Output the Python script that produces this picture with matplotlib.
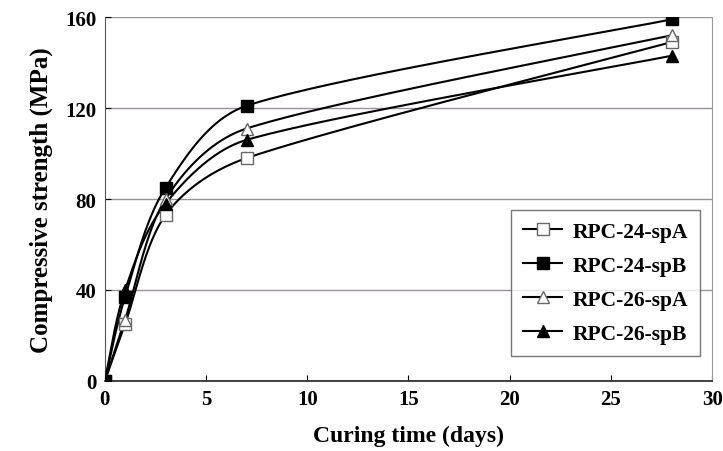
import numpy as np
import matplotlib.pyplot as plt

days = [0, 1, 3, 7, 28]
rpc24_spa = [0, 25, 73, 98, 149]
rpc24_spb = [0, 37, 85, 121, 159]
rpc26_spa = [0, 27, 80, 111, 152]
rpc26_spb = [0, 40, 78, 106, 143]

x_ticks = [0, 5, 10, 15, 20, 25, 30]
y_ticks = [0, 40, 80, 120, 160]

# pixels per data unit, so the smoothing is done in screen space
SX = 607 / 30
SY = 364 / 160


# spreadsheet-style smoothed line: Bezier segments with Catmull-Rom control points,
# control arms clamped to a third of the segment so nothing loops back
def smooth(x, y, n=40):
    p = np.column_stack([np.asarray(x, float) * SX, np.asarray(y, float) * SY])
    p = np.vstack([p[0], p, p[-1]])
    t = np.linspace(0, 1, n)[:, None]
    pts = []
    for i in range(1, len(p) - 2):
        p0, p1, p2, p3 = p[i - 1], p[i], p[i + 1], p[i + 2]
        lim = np.hypot(*(p2 - p1)) / 3
        a1 = (p2 - p0) / 6
        a2 = (p3 - p1) / 6
        for a in (a1, a2):
            L = np.hypot(*a)
            if L > lim:
                a *= lim / L
        c1 = p1 + a1
        c2 = p2 - a2
        seg = ((1 - t) ** 3 * p1 + 3 * (1 - t) ** 2 * t * c1
               + 3 * (1 - t) * t ** 2 * c2 + t ** 3 * p2)
        pts.append(seg)
    pts = np.vstack(pts)
    return pts[:, 0] / SX, pts[:, 1] / SY


plt.rcParams['font.family'] = ['Liberation Serif', 'DejaVu Serif']
plt.rcParams['font.weight'] = 'bold'

fig = plt.figure(figsize=(7.23, 4.52), dpi=100)
ax = fig.add_axes([0.145, 0.155, 0.84, 0.805])

series = [
    ('RPC-24-spA', rpc24_spa, 's', 'white'),
    ('RPC-24-spB', rpc24_spb, 's', 'black'),
    ('RPC-26-spA', rpc26_spa, '^', 'white'),
    ('RPC-26-spB', rpc26_spb, '^', 'black'),
]

for label, vals, mk, fc in series:
    ec = 'black' if fc == 'black' else '#666666'
    sx, sy = smooth(days, vals)
    ax.plot(sx, sy, color='black', lw=1.5, zorder=3)
    ax.plot(days, vals, linestyle='none', marker=mk, markersize=9,
            markerfacecolor=fc, markeredgecolor=ec, markeredgewidth=1.0, zorder=4)
    # legend handle
    ax.plot([], [], color='black', lw=1.5, marker=mk, markersize=9,
            markerfacecolor=fc, markeredgecolor=ec, label=label)

ax.set_xlim(0, 30)
ax.set_ylim(0, 160)
ax.set_xticks(x_ticks)
ax.set_yticks(y_ticks)
ax.tick_params(direction='in', length=4, labelsize=15, pad=6)
ax.yaxis.grid(True, color='#9a8f9a', lw=1.0)
ax.set_axisbelow(True)

ax.spines['top'].set_visible(False)
ax.spines['right'].set_color('#999999')
ax.spines['right'].set_linewidth(0.8)
ax.spines['left'].set_color('#555555')
ax.spines['bottom'].set_color('#333333')
ax.spines['bottom'].set_linewidth(1.3)

ax.set_xlabel('Curing time (days)', fontsize=17, fontweight='bold', labelpad=11)
ax.set_ylabel('Compressive strength (MPa)', fontsize=18, fontweight='bold', labelpad=9)

leg = ax.legend(loc='lower right', bbox_to_anchor=(0.98, 0.069), borderaxespad=0,
                fontsize=15.5, frameon=True, fancybox=False, edgecolor='#555555',
                handlelength=1.8, handletextpad=0.5, labelspacing=0.65, borderpad=0.55)
leg.get_frame().set_linewidth(1.0)

fig.savefig('out.png', dpi=100)
